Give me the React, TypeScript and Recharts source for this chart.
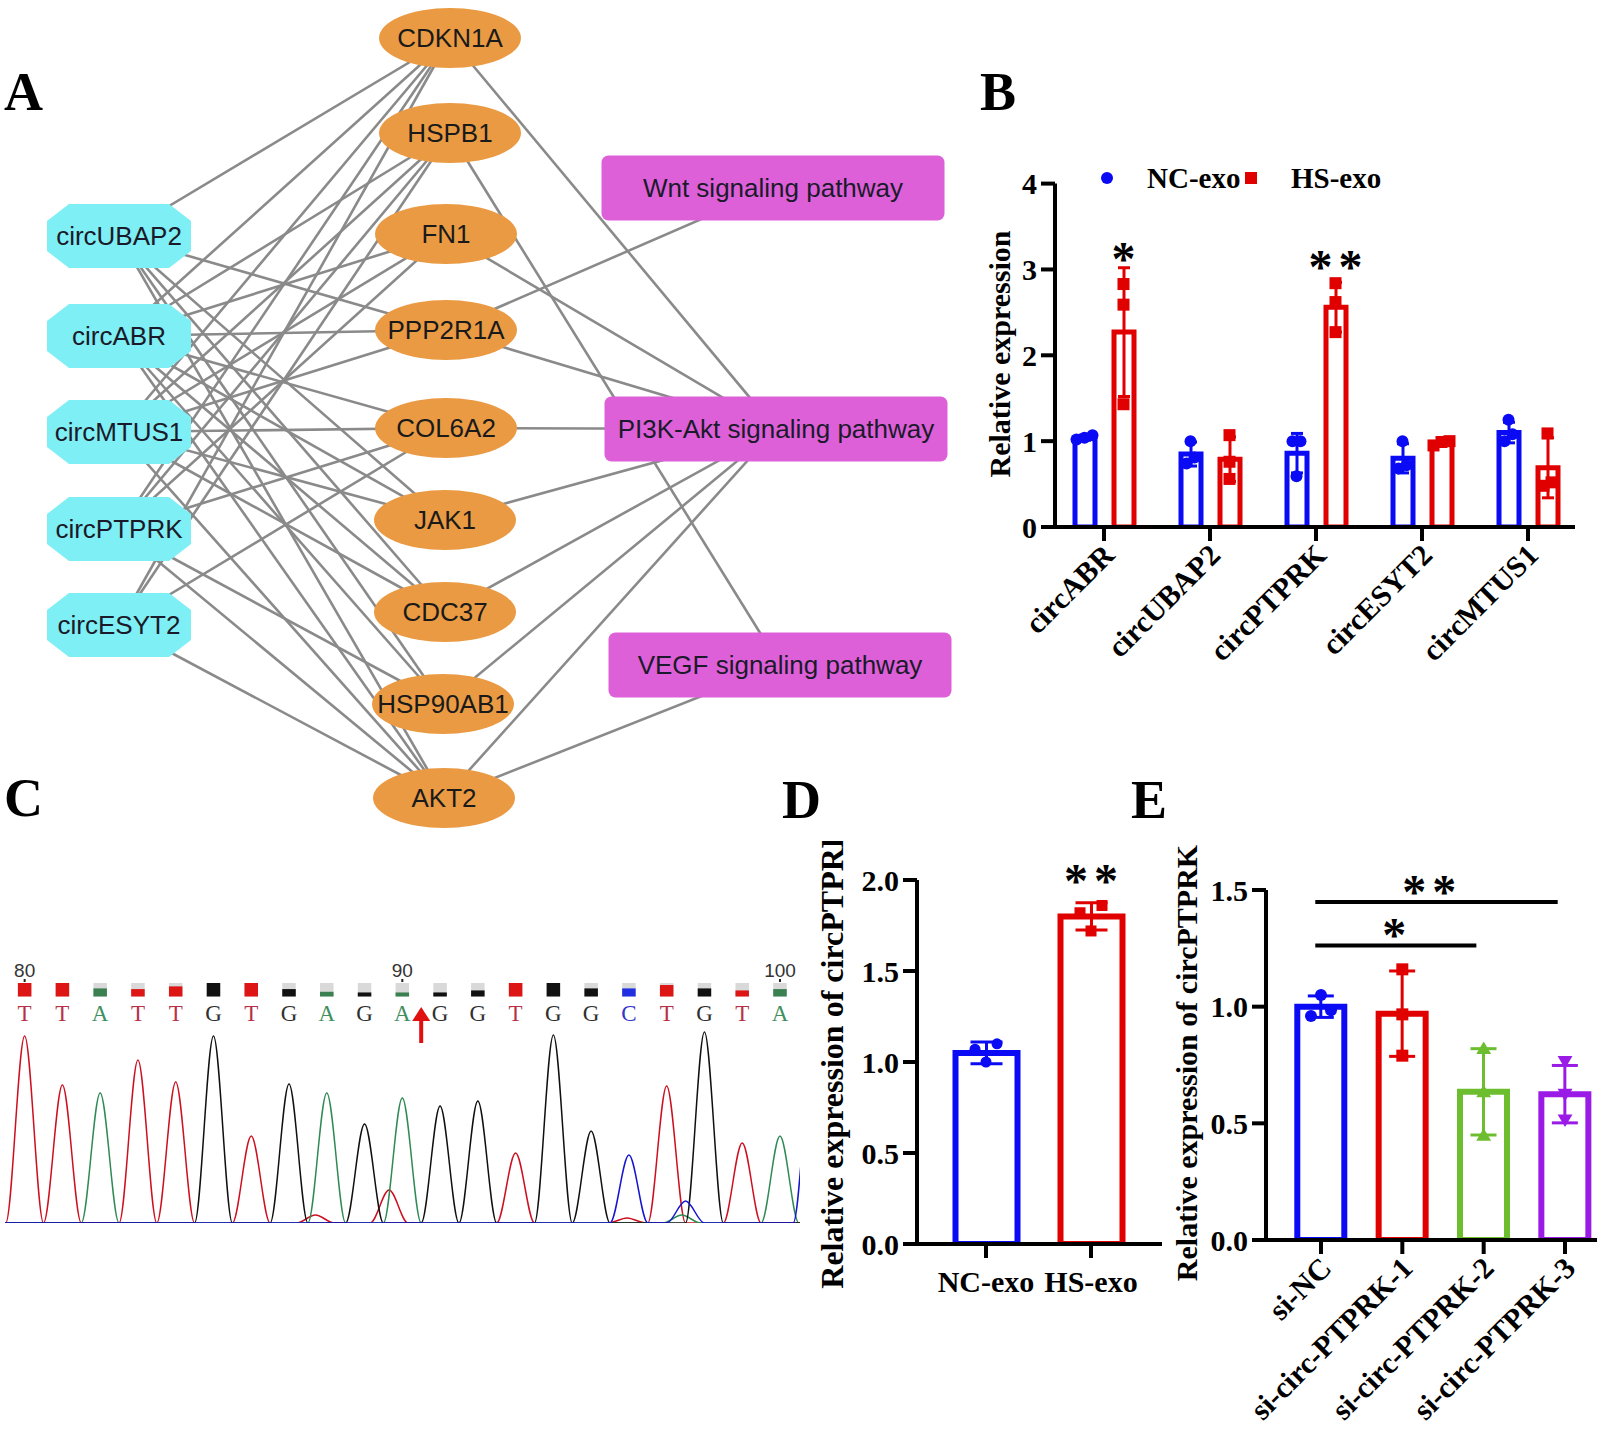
import React from 'react';
import {
  ScatterChart,
  Scatter,
  XAxis,
  YAxis,
  ComposedChart,
  Bar,
  ErrorBar,
  Cell,
  LineChart,
  Line,
  ReferenceDot,
} from 'recharts';

const SERIF = '"Liberation Serif", "Times New Roman", Times, serif';
const SANS = '"Liberation Sans", Arial, Helvetica, sans-serif';

const BLUE = '#0a0af5';
const RED = '#e00000';
const GREEN = '#6cbe2e';
const PURPLE = '#9a1ae6';

// ---------------- Panel A : network ----------------
const circNames = ['circUBAP2', 'circABR', 'circMTUS1', 'circPTPRK', 'circESYT2'];
const geneNames = ['CDKN1A', 'HSPB1', 'FN1', 'PPP2R1A', 'COL6A2', 'JAK1', 'CDC37', 'HSP90AB1', 'AKT2'];
const pathwayNames = ['Wnt signaling pathway', 'PI3K-Akt signaling pathway', 'VEGF signaling pathway'];

const circGeneEdges: [string, string][] = [
  ['circUBAP2', 'CDKN1A'], ['circUBAP2', 'PPP2R1A'], ['circUBAP2', 'JAK1'], ['circUBAP2', 'CDC37'],
  ['circUBAP2', 'HSP90AB1'], ['circUBAP2', 'AKT2'],
  ['circABR', 'CDKN1A'], ['circABR', 'HSPB1'], ['circABR', 'FN1'], ['circABR', 'PPP2R1A'],
  ['circABR', 'COL6A2'], ['circABR', 'JAK1'], ['circABR', 'CDC37'], ['circABR', 'HSP90AB1'], ['circABR', 'AKT2'],
  ['circMTUS1', 'CDKN1A'], ['circMTUS1', 'HSPB1'], ['circMTUS1', 'FN1'], ['circMTUS1', 'PPP2R1A'],
  ['circMTUS1', 'COL6A2'], ['circMTUS1', 'JAK1'], ['circMTUS1', 'CDC37'], ['circMTUS1', 'AKT2'],
  ['circPTPRK', 'CDKN1A'], ['circPTPRK', 'HSPB1'], ['circPTPRK', 'FN1'], ['circPTPRK', 'COL6A2'],
  ['circPTPRK', 'HSP90AB1'], ['circPTPRK', 'AKT2'],
  ['circESYT2', 'CDKN1A'], ['circESYT2', 'HSPB1'], ['circESYT2', 'COL6A2'], ['circESYT2', 'AKT2'],
];
const genePathwayEdges: [string, string][] = [
  ['PPP2R1A', 'Wnt signaling pathway'],
  ['CDKN1A', 'PI3K-Akt signaling pathway'], ['FN1', 'PI3K-Akt signaling pathway'],
  ['PPP2R1A', 'PI3K-Akt signaling pathway'], ['COL6A2', 'PI3K-Akt signaling pathway'],
  ['JAK1', 'PI3K-Akt signaling pathway'], ['CDC37', 'PI3K-Akt signaling pathway'],
  ['HSP90AB1', 'PI3K-Akt signaling pathway'], ['AKT2', 'PI3K-Akt signaling pathway'],
  ['HSPB1', 'VEGF signaling pathway'], ['AKT2', 'VEGF signaling pathway'],
];

// network layout (canvas units)
const circLayoutX = [119, 119, 119, 119, 119];
const circLayoutY = [236, 336, 432, 529, 625];
const geneLayoutX = [450, 450, 446, 446, 446, 445, 445, 443, 444];
const geneLayoutY = [38, 133, 234, 330, 428, 520, 612, 704, 798];
const pathwayLayoutX = [773, 776, 780];
const pathwayLayoutY = [188, 429, 665];

// ---------------- Panel B ----------------
const bCategories = ['circABR', 'circUBAP2', 'circPTPRK', 'circESYT2', 'circMTUS1'];
const bNcMean = [1.04, 0.85, 0.86, 0.8, 1.1];
const bNcSd = [0.03, 0.14, 0.23, 0.17, 0.12];
const bHsMean = [2.27, 0.79, 2.56, 0.98, 0.69];
const bHsSd = [0.75, 0.26, 0.29, 0.03, 0.35];
const bNcPoints = [[1.02, 1.07, 1.04], [1.0, 0.81, 0.74], [1.0, 1.0, 0.59], [1.0, 0.72, 0.68], [1.25, 1.08, 1.0]];
const bHsPoints = [[2.83, 2.59, 1.43], [1.07, 0.76, 0.56], [2.84, 2.62, 2.27], [1.0, 0.99, 0.95], [1.09, 0.52, 0.48]];
const bSigLabels = ['*', '', '**', '', ''];
const bSigValues = [3.2, 0, 3.1, 0, 0];
const bTicks = [0, 1, 2, 3, 4];

// ---------------- Panel C : chromatogram ----------------
const seqStart = 80;
const baseCalls = ['T', 'T', 'A', 'T', 'T', 'G', 'T', 'G', 'A', 'G', 'A', 'G', 'G', 'T', 'G', 'G', 'C', 'T', 'G', 'T', 'A'];
const baseQuality = [1, 1, 0.6, 0.55, 0.75, 1, 1, 0.55, 0.35, 0.3, 0.3, 0.3, 0.45, 1, 1, 0.6, 0.6, 0.85, 0.6, 0.45, 0.55];
const positionLabels = [80, 90, 100];
const mutationPos = 90.5;
const peaksT: [number, number][] = [[80, 187], [81, 138], [83, 163], [84, 141], [86, 87], [87.7, 8], [89.65, 33], [93, 70], [95.95, 5], [97, 137], [99, 80]];
const peaksA: [number, number][] = [[82, 130], [88, 130], [90, 125], [97.4, 8], [100, 87]];
const peaksG: [number, number][] = [[85, 187], [87, 139], [89, 99], [91, 117], [92, 122], [94, 188], [95, 92], [98, 191]];
const peaksC: [number, number][] = [[96, 68], [97.5, 22], [100.85, 160]];

// ---------------- Panel D ----------------
const dCategories = ['NC-exo', 'HS-exo'];
const dMean = [1.05, 1.8];
const dSd = [0.06, 0.075];
const dPoints = [[1.1, 1.07, 1.0], [1.86, 1.82, 1.72]];
const dSigLabel = '**';
const dSigValue = 2.03;
const dTicks = [0, 0.5, 1, 1.5, 2];

// ---------------- Panel E ----------------
const eCategories = ['si-NC', 'si-circ-PTPRK-1', 'si-circ-PTPRK-2', 'si-circ-PTPRK-3'];
const eMean = [1.0, 0.97, 0.635, 0.625];
const eSd = [0.046, 0.183, 0.185, 0.123];
const ePoints = [[1.05, 0.96, 0.985], [1.16, 0.967, 0.79], [0.82, 0.635, 0.448], [0.765, 0.625, 0.515]];
const eSigFrom = [0, 0];
const eSigTo = [2, 3];
const eSigLineValue = [1.262, 1.449];
const eSigLabels = ['*', '**'];
const eSigLabelPos = [0.9, 1.33];
const eSigLabelValue = [1.335, 1.518];
const eTicks = [0, 0.5, 1, 1.5];

// ---------------- helpers ----------------
function spreadPoints(groups: number[][], groupOffsets: number[], step: number, thresh: number) {
  const out: { x: number; y: number }[] = [];
  groups.forEach((vals, i) => {
    const order = vals.map((_, j) => j).sort((a, b) => vals[a] - vals[b]);
    const clusters: number[][] = [];
    order.forEach((j) => {
      const last = clusters[clusters.length - 1];
      if (last && vals[j] - vals[last[last.length - 1]] < thresh) last.push(j);
      else clusters.push([j]);
    });
    clusters.forEach((cl) =>
      cl.forEach((j, k) => out.push({ x: i + groupOffsets[i] + (k - (cl.length - 1) / 2) * step, y: vals[j] }))
    );
  });
  return out;
}

const marker = (kind: string, color: string, size: number) => (p: any) => {
  const { cx, cy } = p;
  if (cx == null || cy == null) return <g />;
  if (kind === 'circle') return <circle cx={cx} cy={cy} r={size / 2} fill={color} />;
  if (kind === 'square') return <rect x={cx - size / 2} y={cy - size / 2} width={size} height={size} fill={color} />;
  if (kind === 'up')
    return <polygon points={`${cx},${cy - size * 0.6} ${cx - size * 0.62},${cy + size * 0.45} ${cx + size * 0.62},${cy + size * 0.45}`} fill={color} />;
  return <polygon points={`${cx},${cy + size * 0.6} ${cx - size * 0.62},${cy - size * 0.45} ${cx + size * 0.62},${cy - size * 0.45}`} fill={color} />;
};

const STAR_SPACING = 6;
const starShape = (label: string, fontSize: number) => (p: any) => (
  <text x={p.cx + (label.length > 1 ? STAR_SPACING / 2 : 0)} y={p.cy + fontSize * 0.47} textAnchor="middle" fontFamily={SERIF}
    fontWeight="bold" fontSize={fontSize} letterSpacing={label.length > 1 ? STAR_SPACING : 0} fill="#000">
    {label}
  </text>
);

const noShape = () => <g />;

const RotTick = (props: any) => {
  const { x, y, payload } = props;
  const px = x + 12;
  const py = y + 14;
  return (
    <text x={px} y={py} textAnchor="end" transform={`rotate(-45 ${px} ${py})`} fontFamily={SERIF} fontWeight="bold" fontSize={30} fill="#000">
      {payload.value}
    </text>
  );
};

const yTickStyle = { fontFamily: SERIF, fontWeight: 'bold', fontSize: 30, fill: '#000' } as any;
const axisStyle = { stroke: '#000', strokeWidth: 4 };

// ---------------- Panel A component ----------------
function GeneNode(p: any) {
  const { cx, cy, payload } = p;
  return (
    <g>
      <ellipse cx={cx} cy={cy} rx={71} ry={30} fill="#ea9a43" />
      <text x={cx} y={cy} textAnchor="middle" dominantBaseline="central" fontFamily={SANS} fontSize={26} fill="#1a1a1a">
        {payload.name}
      </text>
    </g>
  );
}
function CircNode(p: any) {
  const { cx, cy, payload } = p;
  const hw = 72, hh = 32, c = 22, d = 17;
  const pts = [
    [cx - hw + c, cy - hh], [cx + hw - c, cy - hh], [cx + hw, cy - hh + d], [cx + hw, cy + hh - d],
    [cx + hw - c, cy + hh], [cx - hw + c, cy + hh], [cx - hw, cy + hh - d], [cx - hw, cy - hh + d],
  ].map((q) => q.join(',')).join(' ');
  return (
    <g>
      <polygon points={pts} fill="#7eeff4" />
      <text x={cx} y={cy} textAnchor="middle" dominantBaseline="central" fontFamily={SANS} fontSize={26} fill="#1a1a2a">
        {payload.name}
      </text>
    </g>
  );
}
function PathwayNode(p: any) {
  const { cx, cy, payload } = p;
  const w = 343, h = 65;
  return (
    <g>
      <rect x={cx - w / 2} y={cy - h / 2} width={w} height={h} rx={7} fill="#de60d9" />
      <text x={cx} y={cy} textAnchor="middle" dominantBaseline="central" fontFamily={SANS} fontSize={26} fill="#1a1a2a">
        {payload.name}
      </text>
    </g>
  );
}

function NetworkChart() {
  const pos: Record<string, { x: number; y: number }> = {};
  const circData = circNames.map((n, i) => ({ name: n, x: circLayoutX[i], y: circLayoutY[i] }));
  const geneData = geneNames.map((n, i) => ({ name: n, x: geneLayoutX[i], y: geneLayoutY[i] }));
  const pathData = pathwayNames.map((n, i) => ({ name: n, x: pathwayLayoutX[i], y: pathwayLayoutY[i] }));
  [...circData, ...geneData, ...pathData].forEach((d) => (pos[d.name] = { x: d.x, y: d.y }));
  const edges = [...circGeneEdges, ...genePathwayEdges];
  return (
    <ScatterChart width={960} height={830} margin={{ top: 0, right: 0, bottom: 0, left: 0 }}>
      <XAxis type="number" dataKey="x" domain={[0, 960]} hide allowDataOverflow />
      <YAxis type="number" dataKey="y" domain={[0, 830]} reversed hide allowDataOverflow />
      {edges.map(([a, b], k) => (
        <Scatter
          key={'e' + k}
          data={[pos[a], pos[b]]}
          line={{ stroke: '#8a8a8a', strokeWidth: 2.6 }}
          shape={noShape}
          isAnimationActive={false}
        />
      ))}
      <Scatter data={pathData} shape={PathwayNode} isAnimationActive={false} />
      <Scatter data={geneData} shape={GeneNode} isAnimationActive={false} />
      <Scatter data={circData} shape={CircNode} isAnimationActive={false} />
    </ScatterChart>
  );
}

// ---------------- Panel B component ----------------
const B = { left: 960, top: 150, width: 630, height: 530, plotL: 1055, plotR: 1575, plotT: 183.6, plotB: 527 };
function PanelB() {
  const padL = -4, padR = -6;
  const band = (B.plotR - B.plotL - padL - padR) / bCategories.length;
  const barSize = 20, barGap = 19;
  const off = (barSize + barGap) / 2 / band;
  const pxPerUnit = (B.plotB - B.plotT) / 4;
  const ncPts = spreadPoints(bNcPoints, bCategories.map(() => -off), 8 / band, 12 / pxPerUnit);
  const hsPts = spreadPoints(bHsPoints, bCategories.map(() => off), 8 / band, 12 / pxPerUnit);
  const data = bCategories.map((c, i) => ({ cat: c, nc: bNcMean[i], ncSd: bNcSd[i], hs: bHsMean[i], hsSd: bHsSd[i] }));
  const sig = bSigLabels.map((l, i) => ({ x: i + off, y: bSigValues[i], label: l })).filter((d) => d.label);
  return (
    <ComposedChart
      width={B.width}
      height={B.height}
      data={data}
      barGap={barGap}
      margin={{ top: B.plotT - B.top, right: B.left + B.width - B.plotR, bottom: 0, left: 0 }}
    >
      <XAxis xAxisId="cat" dataKey="cat" type="category" padding={{ left: padL, right: padR }} height={B.top + B.height - B.plotB}
        axisLine={axisStyle} tickLine={axisStyle} tickSize={14} tick={<RotTick />} interval={0} />
      <XAxis xAxisId="num" dataKey="x" type="number" domain={[-0.5, 4.5]} padding={{ left: padL, right: padR }} hide allowDataOverflow />
      <YAxis dataKey="y" type="number" domain={[0, 4]} ticks={bTicks} width={B.plotL - B.left} axisLine={axisStyle} tickLine={axisStyle}
        tickSize={14} tickMargin={4} tick={yTickStyle} allowDataOverflow interval={0} />
      <Bar xAxisId="cat" dataKey="nc" barSize={barSize} fill="#fff" stroke={BLUE} strokeWidth={5} isAnimationActive={false}>
        <ErrorBar dataKey="ncSd" width={6} stroke={BLUE} strokeWidth={3} />
      </Bar>
      <Bar xAxisId="cat" dataKey="hs" barSize={barSize} fill="#fff" stroke={RED} strokeWidth={5} isAnimationActive={false}>
        <ErrorBar dataKey="hsSd" width={6} stroke={RED} strokeWidth={3} />
      </Bar>
      <Scatter xAxisId="num" data={ncPts} shape={marker('circle', BLUE, 12)} isAnimationActive={false} />
      <Scatter xAxisId="num" data={hsPts} shape={marker('square', RED, 12)} isAnimationActive={false} />
      {sig.map((s, k) => (
        <ReferenceDot key={'s' + k} xAxisId="num" x={s.x} y={s.y} r={0} ifOverflow="visible" shape={starShape(s.label, 48)} />
      ))}
    </ComposedChart>
  );
}

// ---------------- Panel C component ----------------
function buildTrace(peaks: [number, number][]) {
  const m = new Map<number, number>();
  peaks.forEach(([p, h]) => {
    const a = Math.round((p - 0.5) * 1000) / 1000;
    const b = Math.round((p + 0.5) * 1000) / 1000;
    if (!m.has(a)) m.set(a, 0);
    m.set(p, h);
    if (!m.has(b)) m.set(b, 0);
  });
  const pts = Array.from(m.entries()).map(([x, y]) => ({ x, y })).sort((u, v) => u.x - v.x);
  if (pts[0].x > 79.3) pts.unshift({ x: 79.3, y: 0 });
  if (pts[pts.length - 1].x < 100.7) pts.push({ x: 100.7, y: 0 });
  return pts;
}
const baseColor: Record<string, string> = { T: '#dd1515', A: '#3b8050', G: '#111111', C: '#2030e0' };
const letterColor: Record<string, string> = { T: '#b83048', A: '#3f8f60', G: '#303030', C: '#3535c8' };

const BaseTick = (props: any) => {
  const { x, y, payload } = props;
  const v = payload.value;
  if (v === mutationPos) {
    return (
      <g>
        <line x1={x} y1={y + 20} x2={x} y2={y - 4} stroke="#e01010" strokeWidth={4} />
        <polygon points={`${x},${y - 16} ${x - 9},${y - 2} ${x + 9},${y - 2}`} fill="#e01010" />
      </g>
    );
  }
  const i = Math.round(v - seqStart);
  const b = baseCalls[i];
  const q = baseQuality[i];
  const sq = 13.5;
  const top = y - 40;
  return (
    <g>
      {positionLabels.includes(v) && (
        <g>
          <text x={x} y={y - 53} textAnchor="middle" dominantBaseline="central" fontFamily={SANS} fontSize={19} fill="#333">
            {v}
          </text>
          <rect x={x - 1} y={y - 44} width={2} height={3} fill="#222" />
        </g>
      )}
      <rect x={x - sq / 2} y={top} width={sq} height={sq} fill="#d9d9d9" />
      <rect x={x - sq / 2} y={top + sq * (1 - q)} width={sq} height={sq * q} fill={baseColor[b]} />
      <text x={x} y={y - 10} textAnchor="middle" dominantBaseline="central" fontFamily={SERIF} fontSize={23} fill={letterColor[b]}>
        {b}
      </text>
    </g>
  );
};

function Chromatogram() {
  const ticks = [...baseCalls.map((_, i) => seqStart + i), mutationPos];
  const traces = [
    { peaks: peaksT, color: '#cc1020' },
    { peaks: peaksA, color: '#2f8a55' },
    { peaks: peaksG, color: '#101010' },
    { peaks: peaksC, color: '#1515d0' },
  ];
  return (
    <LineChart width={795} height={288} margin={{ top: 0, right: 0, bottom: 8, left: 0 }}>
      <XAxis orientation="top" type="number" dataKey="x" domain={[79.48, 100.53]} allowDataOverflow ticks={ticks} interval={0}
        height={80} axisLine={false} tickLine={false} tickSize={0} tickMargin={0} tick={<BaseTick />} />
      <YAxis type="number" domain={[0, 200]} hide allowDataOverflow />
      {traces.map((t, k) => (
        <Line key={k} data={buildTrace(t.peaks)} dataKey="y" type="monotone" stroke={t.color} strokeWidth={1.5} dot={false} isAnimationActive={false} />
      ))}
    </LineChart>
  );
}

// ---------------- Panel D component ----------------
const D = { left: 780, top: 850, width: 385, height: 460, plotL: 917, plotR: 1162, plotT: 880, plotB: 1244 };
function PanelD() {
  const padL = 16.5, padR = 18.5;
  const band = (D.plotR - D.plotL - padL - padR) / dCategories.length;
  const pxPerUnit = (D.plotB - D.plotT) / 2;
  const colors = [BLUE, RED];
  const data = dCategories.map((c, i) => ({ cat: c, mean: dMean[i], e0: i === 0 ? dSd[i] : undefined, e1: i === 1 ? dSd[i] : undefined }));
  const pts0 = spreadPoints([dPoints[0]], [0], 22 / band, 11 / pxPerUnit);
  const pts1 = spreadPoints([dPoints[1]], [0], 22 / band, 11 / pxPerUnit).map((p) => ({ ...p, x: p.x + 1 }));
  return (
    <ComposedChart width={D.width} height={D.height} data={data}
      margin={{ top: D.plotT - D.top, right: D.left + D.width - D.plotR, bottom: 0, left: 0 }}>
      <XAxis xAxisId="cat" dataKey="cat" type="category" padding={{ left: padL, right: padR }} height={D.top + D.height - D.plotB}
        axisLine={axisStyle} tickLine={axisStyle} tickSize={14} tickMargin={13} tick={yTickStyle} interval={0} />
      <XAxis xAxisId="num" dataKey="x" type="number" domain={[-0.5, 1.5]} padding={{ left: padL, right: padR }} hide allowDataOverflow />
      <YAxis dataKey="y" type="number" domain={[0, 2]} ticks={dTicks} width={D.plotL - D.left} axisLine={axisStyle} tickLine={axisStyle}
        tickSize={14} tickMargin={4} tick={yTickStyle} tickFormatter={(v: number) => v.toFixed(1)} allowDataOverflow interval={0} />
      <Bar xAxisId="cat" dataKey="mean" barSize={62} fill="#fff" strokeWidth={6} isAnimationActive={false}>
        {data.map((_, i) => (
          <Cell key={i} stroke={colors[i]} fill="#fff" />
        ))}
        <ErrorBar dataKey="e0" width={16} stroke={BLUE} strokeWidth={3} />
        <ErrorBar dataKey="e1" width={16} stroke={RED} strokeWidth={3} />
      </Bar>
      <Scatter xAxisId="num" data={pts0} shape={marker('circle', BLUE, 11)} isAnimationActive={false} />
      <Scatter xAxisId="num" data={pts1} shape={marker('square', RED, 11)} isAnimationActive={false} />
      <ReferenceDot xAxisId="num" x={1} y={dSigValue} r={0} ifOverflow="visible" shape={starShape(dSigLabel, 48)} />
    </ComposedChart>
  );
}

// ---------------- Panel E component ----------------
const E = { left: 1150, top: 860, width: 449, height: 569, plotL: 1266, plotR: 1597, plotT: 890, plotB: 1240 };
function PanelE() {
  const padL = 14.3, padR = -8.7;
  const band = (E.plotR - E.plotL - padL - padR) / eCategories.length;
  const pxPerUnit = (E.plotB - E.plotT) / 1.5;
  const colors = [BLUE, RED, GREEN, PURPLE];
  const kinds = ['circle', 'square', 'up', 'down'];
  const data = eCategories.map((c, i) => {
    const row: any = { cat: c, mean: eMean[i] };
    row['e' + i] = eSd[i];
    return row;
  });
  const groups = ePoints.map((vals, i) =>
    spreadPoints([vals], [0], 20 / band, 11 / pxPerUnit).map((p) => ({ ...p, x: p.x + i }))
  );
  const sigLines = eSigFrom.map((f, k) => [
    { x: f - 0.07, y: eSigLineValue[k] },
    { x: eSigTo[k] - 0.09, y: eSigLineValue[k] },
  ]);
  return (
    <ComposedChart width={E.width} height={E.height} data={data}
      margin={{ top: E.plotT - E.top, right: E.left + E.width - E.plotR, bottom: 0, left: 0 }}>
      <XAxis xAxisId="cat" dataKey="cat" type="category" padding={{ left: padL, right: padR }} height={E.top + E.height - E.plotB}
        axisLine={axisStyle} tickLine={axisStyle} tickSize={14} tick={<RotTick />} interval={0} />
      <XAxis xAxisId="num" dataKey="x" type="number" domain={[-0.5, 3.5]} padding={{ left: padL, right: padR }} hide allowDataOverflow />
      <YAxis dataKey="y" type="number" domain={[0, 1.5]} ticks={eTicks} width={E.plotL - E.left} axisLine={axisStyle} tickLine={axisStyle}
        tickSize={14} tickMargin={4} tick={yTickStyle} tickFormatter={(v: number) => v.toFixed(1)} allowDataOverflow interval={0} />
      <Bar xAxisId="cat" dataKey="mean" barSize={47} fill="#fff" strokeWidth={6} isAnimationActive={false}>
        {data.map((_, i) => (
          <Cell key={i} stroke={colors[i]} fill="#fff" />
        ))}
        {colors.map((c, i) => (
          <ErrorBar key={i} dataKey={'e' + i} width={13} stroke={c} strokeWidth={3} />
        ))}
      </Bar>
      {groups.map((g, i) => (
        <Scatter key={'p' + i} xAxisId="num" data={g} shape={marker(kinds[i], colors[i], 12)} isAnimationActive={false} />
      ))}
      {sigLines.map((seg, k) => (
        <Scatter key={'l' + k} xAxisId="num" data={seg} line={{ stroke: '#000', strokeWidth: 4 }} shape={noShape} isAnimationActive={false} />
      ))}
      {eSigLabels.map((l, k) => (
        <ReferenceDot key={'s' + k} xAxisId="num" x={eSigLabelPos[k]} y={eSigLabelValue[k]} r={0} ifOverflow="visible" shape={starShape(l, 48)} />
      ))}
    </ComposedChart>
  );
}

// ---------------- App ----------------
export default function App() {
  const letter = { fontFamily: SERIF, fontWeight: 'bold', fontSize: 54, fill: '#000' } as any;
  const title = { fontFamily: SERIF, fontWeight: 'bold', fill: '#000' } as any;
  return (
    <div style={{ position: 'absolute', left: 0, top: 0, width: 1599, height: 1429, background: '#fff', overflow: 'hidden' }}>
      <div style={{ position: 'absolute', left: 0, top: 0 }}>
        <NetworkChart />
      </div>
      <div style={{ position: 'absolute', left: B.left, top: B.top }}>
        <PanelB />
      </div>
      <div style={{ position: 'absolute', left: 5, top: 943 }}>
        <Chromatogram />
      </div>
      <div style={{ position: 'absolute', left: D.left, top: D.top }}>
        <PanelD />
      </div>
      <div style={{ position: 'absolute', left: E.left, top: E.top }}>
        <PanelE />
      </div>
      <svg width={1599} height={1429} style={{ position: 'absolute', left: 0, top: 0, pointerEvents: 'none' }}>
        <defs>
          <clipPath id="dTitleClip">
            <rect x={790} y={841} width={90} height={480} />
          </clipPath>
        </defs>
        <text x={4} y={110} {...letter}>A</text>
        <text x={980} y={110} {...letter}>B</text>
        <text x={4} y={816} {...letter}>C</text>
        <text x={782} y={818} {...letter}>D</text>
        <text x={1131} y={818} {...letter}>E</text>

        <circle cx={1107} cy={178} r={6} fill={BLUE} />
        <text x={1147} y={178} dominantBaseline="central" fontSize={29} {...title}>NC-exo</text>
        <rect x={1245} y={172} width={12} height={12} fill={RED} />
        <text x={1291} y={178} dominantBaseline="central" fontSize={29} {...title}>HS-exo</text>

        <text x={999} y={354} textAnchor="middle" dominantBaseline="central" fontSize={30} transform="rotate(-90 999 354)" {...title}>
          Relative expression
        </text>
        <g clipPath="url(#dTitleClip)">
          <text x={832} y={1056} textAnchor="middle" dominantBaseline="central" fontSize={32} transform="rotate(-90 832 1056)" {...title}>
            Relative expression of circPTPRK
          </text>
        </g>
        <text x={1186} y={1063} textAnchor="middle" dominantBaseline="central" fontSize={30} transform="rotate(-90 1186 1063)" {...title}>
          Relative expression of circPTPRK
        </text>
      </svg>
    </div>
  );
}
